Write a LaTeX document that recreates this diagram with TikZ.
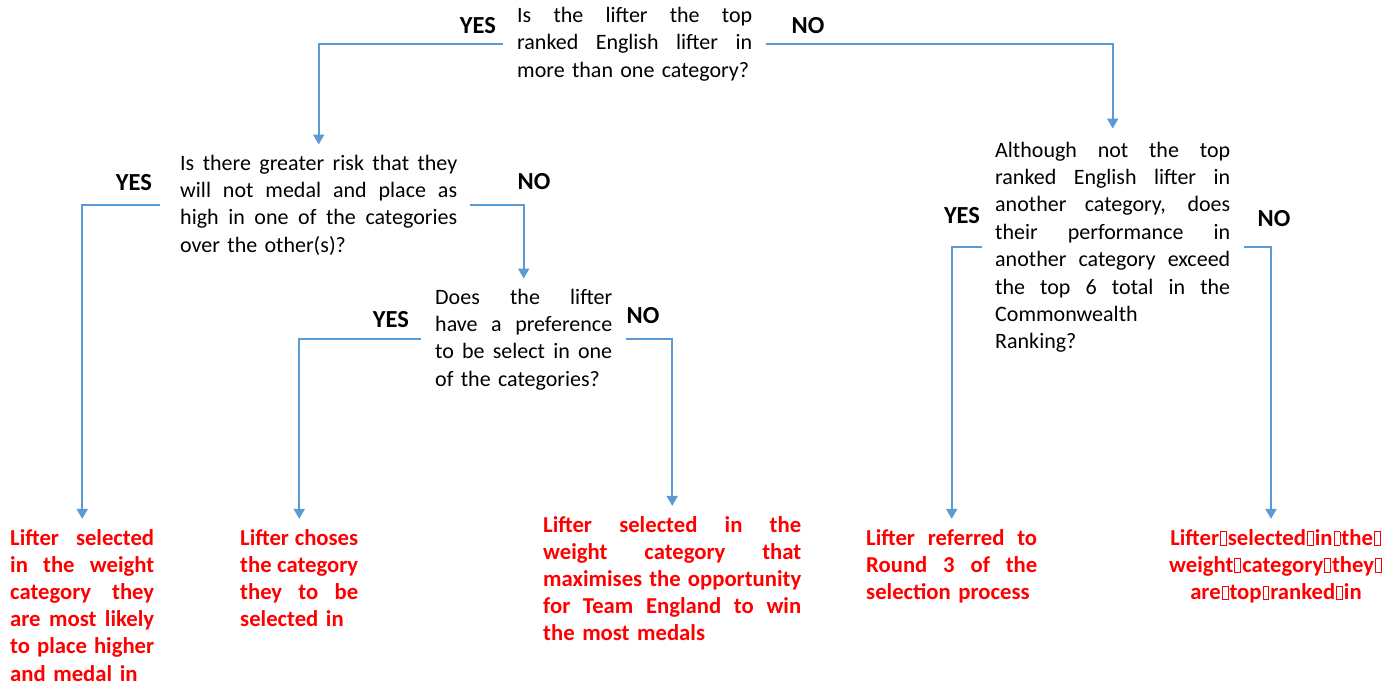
\documentclass[tikz,border=0pt]{standalone}
\usepackage{fontspec}
\setmainfont{Carlito}
\usetikzlibrary{arrows.meta}
\definecolor{lineblue}{HTML}{5B9BD5}
\definecolor{outred}{HTML}{FF0000}
\newcommand\jl[1]{{\spaceskip=0pt\xspaceskip=0pt\relax\makebox[\hsize][s]{#1}}\\}
\newcommand\gbox{\kern1pt{\setlength\fboxsep{0pt}\setlength\fboxrule{0.9pt}\fbox{\rule{0pt}{13pt}\rule{5pt}{0pt}}}\kern1pt}
\tikzset{
  qtext/.style={inner sep=0pt, anchor=base west, align=left,
    font=\fontsize{22}{27.4}\selectfont, text=black},
  outtext/.style={inner sep=0pt, anchor=base west, align=left,
    font=\fontsize{22.7}{27.2}\selectfont\bfseries, text=outred},
  lbl/.style={inner sep=0pt, font=\fontsize{24.5}{28}\selectfont\bfseries},
  conn/.style={draw=lineblue, line width=2pt,
    -{Triangle[width=11pt,length=10pt]}, shorten >=10pt}
}
\begin{document}
\begin{tikzpicture}[x=1pt,y=-1pt]
\useasboundingbox (0,0) rectangle (1395,686);
% questions
\node[qtext, text width=235pt] (q1) at (517,22.5)
  {\jl{Is the lifter the top}\jl{ranked English lifter in}more than one category?};
\node[qtext, text width=277pt] (q2) at (180,170)
  {\jl{Is there greater risk that they}\jl{will not medal and place as}\jl{high in one of the categories}over the other(s)?};
\node[qtext, text width=177pt] (q3) at (435,304)
  {\jl{Does the lifter}\jl{have a preference}\jl{to be select in one}of the categories?};
\node[qtext, text width=235pt] (q4) at (995,157)
  {\jl{Although not the top}\jl{ranked English lifter in}\jl{another category, does}\jl{their performance in}\jl{another category exceed}\jl{the top 6 total in the}Commonwealth\\Ranking?};
% outcomes
\node[outtext, text width=144pt] (r1) at (10,545)
  {\jl{Lifter selected}\jl{in the weight}\jl{category they}\jl{are most likely}\jl{to place higher}and medal in};
\node[outtext, text width=118pt] (r2) at (240,545)
  {\jl{Lifter choses}\jl{the category}\jl{they to be}selected in};
\node[outtext, text width=258pt] (r3) at (543,532)
  {\jl{Lifter selected in the}\jl{weight category that}\jl{maximises the opportunity}\jl{for Team England to win}the most medals};
\node[outtext, text width=171pt] (r4) at (866,545)
  {\jl{Lifter referred to}\jl{Round 3 of the}selection process};
\node[outtext, text width=230pt, align=center, anchor=base] (r5) at (1276,545)
  {Lifter\gbox selected\gbox in\gbox the\gbox\\weight\gbox category\gbox they\gbox\\are\gbox top\gbox ranked\gbox in};
% labels
\node[lbl] (y1) at (478,26) {YES};
\node[lbl] (n1) at (808,26) {NO};
\node[lbl] (y2) at (134,183) {YES};
\node[lbl] (n2) at (534,182) {NO};
\node[lbl] (y3) at (391,320) {YES};
\node[lbl] (n3) at (643,316) {NO};
\node[lbl] (y4) at (962,216) {YES};
\node[lbl] (n4) at (1274,219) {NO};
% connectors
\draw[conn] ([xshift=-14pt]q1.west) -| (q2.north);
\draw[conn, shorten >=13pt] ([xshift=14pt]q1.east) -| (q4.north);
\draw[conn] ([xshift=-20pt]q2.west) -| (r1.north);
\draw[conn] ([xshift=13pt]q2.east) -| (q3.north);
\draw[conn] ([xshift=-14pt]q3.west) -| (r2.north);
\draw[conn] ([xshift=14pt]q3.east) -| (r3.north);
\draw[conn] ([xshift=-13pt]q4.west) -| (r4.north);
\draw[conn] ([xshift=14pt]q4.east) -| ([xshift=-5pt]r5.north);
\end{tikzpicture}
\end{document}
